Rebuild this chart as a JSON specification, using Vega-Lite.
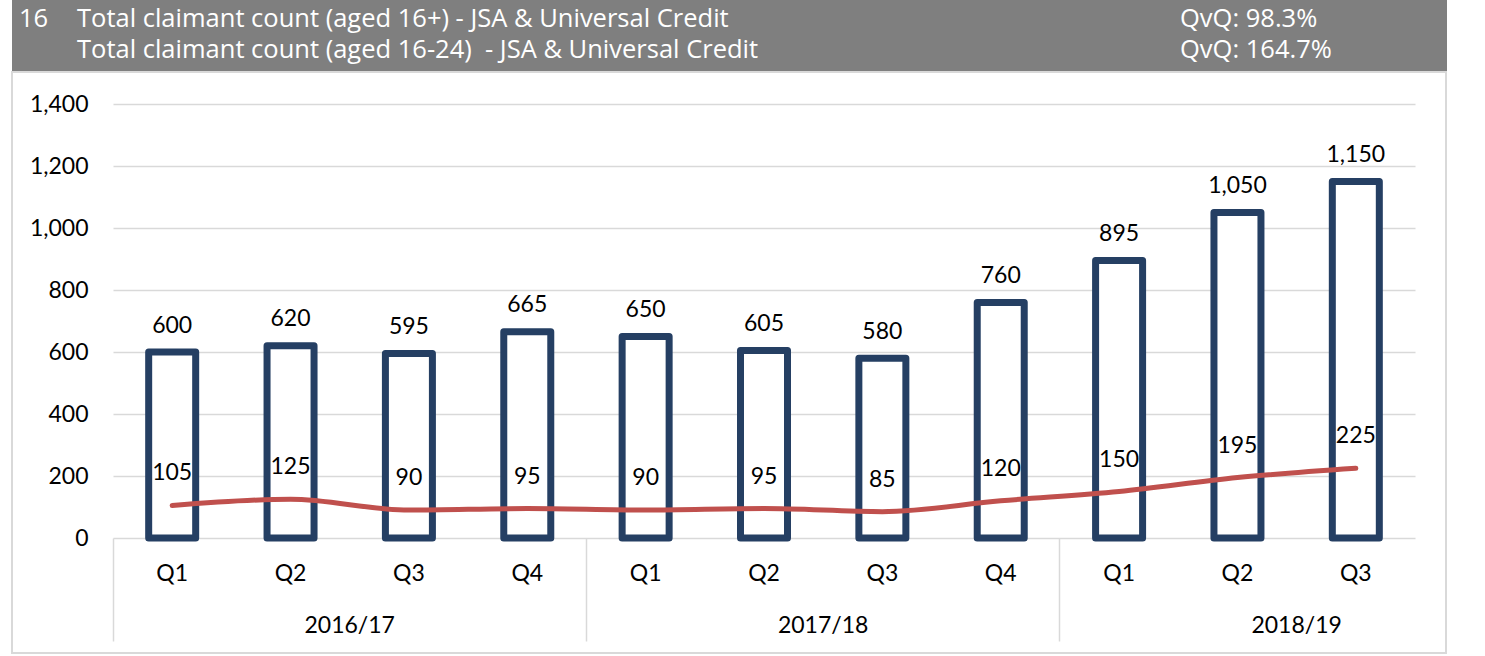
{
  "$schema": "https://vega.github.io/schema/vega-lite/v6.json",
  "autosize": "none",
  "width": 1302,
  "height": 434,
  "padding": {"left": 113, "top": 104, "right": 70, "bottom": 118},
  "background": "white",
  "config": {
    "view": {"stroke": null},
    "font": "Lato",
    "text": {"font": "Lato"}
  },
  "data": {
    "values": [
      {"key": "2016/17 Q1", "total": 600, "young": 105},
      {"key": "2016/17 Q2", "total": 620, "young": 125},
      {"key": "2016/17 Q3", "total": 595, "young": 90},
      {"key": "2016/17 Q4", "total": 665, "young": 95},
      {"key": "2017/18 Q1", "total": 650, "young": 90},
      {"key": "2017/18 Q2", "total": 605, "young": 95},
      {"key": "2017/18 Q3", "total": 580, "young": 85},
      {"key": "2017/18 Q4", "total": 760, "young": 120},
      {"key": "2018/19 Q1", "total": 895, "young": 150},
      {"key": "2018/19 Q2", "total": 1050, "young": 195},
      {"key": "2018/19 Q3", "total": 1150, "young": 225}
    ]
  },
  "resolve": {"axis": {"x": "independent"}},
  "layer": [
    {
      "data": {"values": [{"k": 1}]},
      "mark": {"type": "rect", "fill": "#7F7F7F"},
      "encoding": {"x": {"value": -101}, "x2": {"value": 1334}, "y": {"value": -104}, "y2": {"value": -32}}
    },
    {
      "data": {"values": [{"k": 1}]},
      "mark": {"type": "rect", "fill": null, "stroke": "#D9D9D9", "strokeWidth": 2},
      "encoding": {"x": {"value": -101}, "x2": {"value": 1333}, "y": {"value": -32}, "y2": {"value": 549}}
    },
    {
      "data": {"values": [{"k": 1}]},
      "mark": {"type": "text", "text": "16", "color": "white", "font": "Open Sans", "fontSize": 25.5, "align": "left", "baseline": "alphabetic"},
      "encoding": {"x": {"value": -94}, "y": {"value": -77}}
    },
    {
      "data": {"values": [{"k": 1}]},
      "mark": {"type": "text", "text": "Total claimant count (aged 16+) - JSA & Universal Credit", "color": "white", "font": "Open Sans", "fontSize": 25.5, "align": "left", "baseline": "alphabetic"},
      "encoding": {"x": {"value": -36}, "y": {"value": -77}}
    },
    {
      "data": {"values": [{"k": 1}]},
      "mark": {"type": "text", "text": "Total claimant count (aged 16-24)\u00a0 - JSA & Universal Credit", "color": "white", "font": "Open Sans", "fontSize": 25.5, "align": "left", "baseline": "alphabetic"},
      "encoding": {"x": {"value": -36}, "y": {"value": -46}}
    },
    {
      "data": {"values": [{"k": 1}]},
      "mark": {"type": "text", "text": "QvQ: 98.3%", "color": "white", "font": "Open Sans", "fontSize": 25.5, "align": "left", "baseline": "alphabetic"},
      "encoding": {"x": {"value": 1067}, "y": {"value": -77}}
    },
    {
      "data": {"values": [{"k": 1}]},
      "mark": {"type": "text", "text": "QvQ: 164.7%", "color": "white", "font": "Open Sans", "fontSize": 25.5, "align": "left", "baseline": "alphabetic"},
      "encoding": {"x": {"value": 1067}, "y": {"value": -46}}
    },
    {
      "mark": {"type": "bar", "width": 47, "fill": "white", "stroke": "#253F63", "strokeWidth": 7, "strokeJoin": "round"},
      "encoding": {
        "x": {
          "field": "key", "type": "nominal", "sort": null,
          "scale": {"paddingInner": 0, "paddingOuter": 0},
          "axis": {
            "title": null, "orient": "bottom", "domain": false, "ticks": false, "grid": false,
            "labelAngle": 0, "labelFontSize": 23, "labelColor": "#000000", "labelFont": "Lato",
            "labelBaseline": "alphabetic", "labelPadding": 42,
            "labelExpr": "split(datum.value, ' ')[1]"
          }
        },
        "y": {
          "field": "total", "type": "quantitative",
          "scale": {"domain": [0, 1400], "nice": false},
          "axis": {
            "title": null, "values": [0, 200, 400, 600, 800, 1000, 1200, 1400], "format": ",d",
            "domain": false, "ticks": false, "gridColor": "#D9D9D9", "gridWidth": 1.5,
            "labelFontSize": 23, "labelColor": "#000000", "labelFont": "Lato", "labelPadding": 25
          }
        }
      }
    },
    {
      "mark": {"type": "text", "fontSize": 23, "color": "#000000", "baseline": "alphabetic", "dy": -19.5},
      "encoding": {
        "x": {
          "field": "key", "type": "nominal", "sort": null,
          "axis": {
            "title": null, "orient": "bottom", "domain": false, "grid": false, "bandPosition": 0,
            "ticks": true, "tickSize": 103, "tickWidth": 1.5,
            "tickColor": {"condition": {"test": "indexof(['2016/17 Q1','2017/18 Q1','2018/19 Q1'], datum.value) >= 0", "value": "#D9D9D9"}, "value": "transparent"},
            "labelAngle": 0, "labelFontSize": 23, "labelColor": "#000000", "labelFont": "Lato",
            "labelBaseline": "alphabetic", "labelPadding": -9, "labelAlign": "center", "labelOffset": -59.2,
            "labelExpr": "indexof(['2016/17 Q3','2017/18 Q3','2018/19 Q3'], datum.value) >= 0 ? split(datum.value, ' ')[0] : ''"
          }
        },
        "y": {"field": "total", "type": "quantitative"},
        "text": {"field": "total", "type": "quantitative", "format": ",d"}
      }
    },
    {
      "mark": {"type": "line", "color": "#C0504D", "strokeWidth": 5, "strokeCap": "round", "strokeJoin": "round", "interpolate": "monotone"},
      "encoding": {
        "x": {"field": "key", "type": "nominal", "sort": null, "axis": null},
        "y": {"field": "young", "type": "quantitative"}
      }
    },
    {
      "mark": {"type": "text", "fontSize": 23, "color": "#000000", "baseline": "alphabetic", "dy": -25},
      "encoding": {
        "x": {"field": "key", "type": "nominal", "sort": null, "axis": null},
        "y": {"field": "young", "type": "quantitative"},
        "text": {"field": "young", "type": "quantitative"}
      }
    }
  ]
}
